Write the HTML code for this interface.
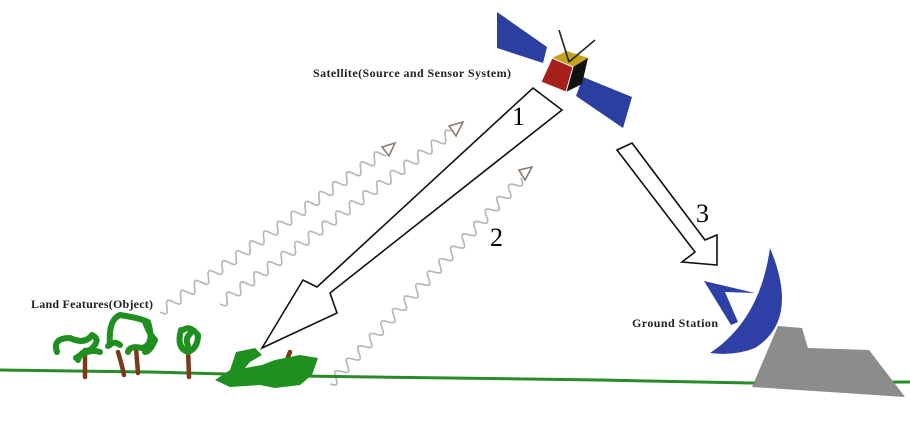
<!DOCTYPE html>
<html><head><meta charset="utf-8"><style>
html,body{margin:0;padding:0;background:#fff;}
svg{display:block;}
text{font-family:"Liberation Serif",serif;}
</style></head><body>
<svg id="s" width="910" height="422" viewBox="0 0 910 422" xmlns="http://www.w3.org/2000/svg">
<rect width="910" height="422" fill="#fff"/>
<g id="waves" fill="none" stroke="#b8b8b8" stroke-width="1.7"></g>
<polygon points="382,147 395,143 389,156" fill="#fff" stroke="#8a7a70" stroke-width="1.6"/>
<polygon points="449,126 463,122 456,136" fill="#fff" stroke="#8a7a70" stroke-width="1.6"/>
<polygon points="519,170 532,167 525,180" fill="#fff" stroke="#8a7a70" stroke-width="1.6"/>
<polygon points="533,88 562,110 330,293 337,313 262,348 303,280 317,287" fill="#fff" stroke="#111" stroke-width="1.6"/>
<text x="512" y="125" font-size="26">1</text>
<text x="490" y="246" font-size="26">2</text>
<polygon points="617,150 632,143 705,240 717,235 717,265 682,262 695,252" fill="#fff" stroke="#111" stroke-width="1.6"/>
<text x="696" y="222" font-size="26">3</text>
<polygon points="497,12 547,47 543,63 497,48" fill="#2a3fa0"/>
<polygon points="583,77 632,97 623,128 576,96" fill="#2a3fa0"/>
<polygon points="552,58 567,51 588,58 573,67" fill="#c8a21a"/>
<polygon points="573,67 588,58 582,84 566,92" fill="#111"/>
<polygon points="552,58 573,67 566,92 541,82" fill="#a8201c" stroke="#fff" stroke-width="1"/>
<line x1="569" y1="62" x2="559" y2="30" stroke="#222" stroke-width="1.6"/>
<line x1="569" y1="62" x2="595" y2="40" stroke="#222" stroke-width="1.6"/>
<text x="313" y="77" font-size="12" font-weight="bold" fill="#222" textLength="198">Satellite(Source and Sensor System)</text>
<path d="M0,370 L150,372 L300,376 L600,380 L750,383 L910,382" stroke="#2a8a2a" stroke-width="3" fill="none"/>
<polygon points="752,387 778,326 802,328 808,348 869,350 905,397" fill="#8c8c8c"/>
<path d="M770,248 Q800,320 755,348 Q735,356 710,353 Q760,320 770,248 Z" fill="#2e3fa6"/>
<polygon points="704,281 755,293 725,292 738,322 731,325" fill="#2e3fa6"/>
<text x="632" y="327" font-size="12" font-weight="bold" fill="#222" textLength="86">Ground Station</text>
<text x="31" y="308" font-size="12" font-weight="bold" fill="#222" textLength="122">Land Features(Object)</text>
<g stroke="#7a3a1a" stroke-width="4.5" fill="none" stroke-linecap="round">
<line x1="85" y1="350" x2="85" y2="377"/>
<path d="M118,352 Q122,365 124,375"/>
<line x1="136" y1="348" x2="138" y2="373"/>
<line x1="188" y1="348" x2="189" y2="377"/>
<path d="M290,352 Q284,365 286,381"/>
</g>
<g stroke="#1f8f1f" stroke-width="6" fill="none" stroke-linecap="round" stroke-linejoin="round">
<path d="M57,352 Q52,338 70,338 Q85,345 92,335 Q102,340 90,350 Q80,352 78,360 M76,358 Q90,348 100,352"/>
<path d="M110,345 Q108,320 120,315 Q140,318 148,322 Q155,345 142,348 Q130,345 128,352 M120,345 Q114,340 108,346 M145,322 Q150,335 155,340 Q150,352 145,352"/>
<path d="M181,330 Q176,348 188,352 Q198,348 198,335 Q190,325 183,330 M188,346 Q185,338 190,334"/>
</g>
<g fill="#1f8f1f">
<polygon points="236,352 255,348 262,355 250,362 245,368 262,365 275,360 300,355 318,358 312,375 300,385 275,388 260,385 230,387 215,380 230,370"/>
</g>
<script>
function wave(x1,y1,x2,y2,wl,amp){var dx=x2-x1,dy=y2-y1,L=Math.hypot(dx,dy),ux=dx/L,uy=dy/L,nx=-uy,ny=ux,d='';for(var t=0;t<=L;t+=1){var o=amp*Math.sin(2*Math.PI*t/wl);var x=x1+ux*t+nx*o,y=y1+uy*t+ny*o;d+=(t==0?'M':'L')+x.toFixed(1)+','+y.toFixed(1);}var p=document.createElementNS('http://www.w3.org/2000/svg','path');p.setAttribute('d',d);document.getElementById('waves').appendChild(p);}
wave(160,312,384,152,17,5);wave(220,304,452,132,17,5);wave(330,384,522,178,17,5);
</script>
</svg>
</body></html>
